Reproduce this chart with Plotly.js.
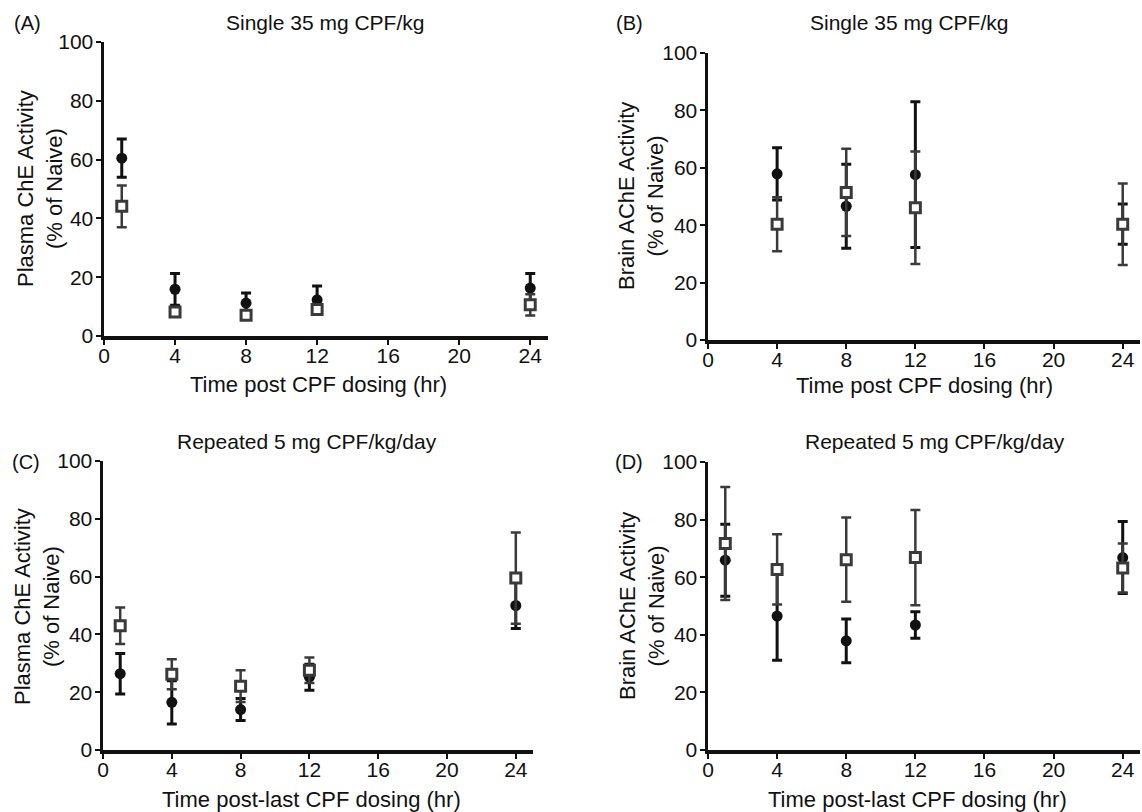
<!DOCTYPE html>
<html>
<head>
<meta charset="utf-8">
<script src="https://cdn.plot.ly/plotly-3.0.1.min.js"></script>
<style>html,body{margin:0;padding:0;background:#fff;}#chart{width:1142px;height:812px;}</style>
</head>
<body>
<div id="chart"></div>
<script>
// ---- Data ----
const hoursA = [1, 4, 8, 12, 24];
const plasmaSingleCircle = [60.5, 15.9, 11.2, 12.3, 16.3];
const plasmaSingleCircleErr = [6.5, 5.4, 3.4, 4.7, 5.0];
const plasmaSingleSquare = [44.1, 8.2, 7.1, 9.0, 10.6];
const plasmaSingleSquareErr = [7.1, 1.0, 1.0, 1.5, 3.6];

const hoursB = [4, 8, 12, 24];
const brainSingleCircle = [57.9, 46.6, 57.6, 40.4];
const brainSingleCircleErr = [9.1, 14.6, 25.4, 7.0];
const brainSingleSquare = [40.3, 51.4, 46.1, 40.3];
const brainSingleSquareErr = [9.4, 15.2, 19.6, 14.2];

const hoursC = [1, 4, 8, 12, 24];
const plasmaRepCircle = [26.4, 16.5, 14.0, 25.2, 50.0];
const plasmaRepCircleErr = [7.0, 7.5, 3.8, 4.5, 8.0];
const plasmaRepSquare = [43.0, 26.2, 22.1, 27.6, 59.5];
const plasmaRepSquareErr = [6.3, 5.2, 5.5, 4.4, 15.8];

const hoursD = [1, 4, 8, 12, 24];
const brainRepCircle = [65.9, 46.5, 37.9, 43.4, 66.8];
const brainRepCircleErr = [12.5, 15.3, 7.6, 4.6, 12.5];
const brainRepSquare = [71.7, 62.7, 66.1, 66.8, 63.2];
const brainRepSquareErr = [19.6, 12.2, 14.6, 16.5, 8.5];

const xTicks = [0, 4, 8, 12, 16, 20, 24];
const yTicks = [0, 20, 40, 60, 80, 100];

const panelLetters = ['(A)', '(B)', '(C)', '(D)'];
const panelTitles = ['Single 35 mg CPF/kg', 'Single 35 mg CPF/kg', 'Repeated 5 mg CPF/kg/day', 'Repeated 5 mg CPF/kg/day'];
const xTitles = ['Time post CPF dosing (hr)', 'Time post CPF dosing (hr)', 'Time post-last CPF dosing (hr)', 'Time post-last CPF dosing (hr)'];
const yTitles = ['Plasma ChE Activity<br>(% of Naive)', 'Brain AChE Activity<br>(% of Naive)', 'Plasma ChE Activity<br>(% of Naive)', 'Brain AChE Activity<br>(% of Naive)'];

// ---- Build ----
const W = 1142, H = 812;
const FONT = 'Liberation Sans, Arial, sans-serif';
const NARROW = 'Liberation Sans Narrow, Arial Narrow, Liberation Sans, sans-serif';
const px = v => v / W;
const py = v => 1 - v / H;

function circleTrace(x, y, e, ax) {
  return {x: x, y: y, type: 'scatter', mode: 'markers', xaxis: 'x' + ax, yaxis: 'y' + ax,
    marker: {symbol: 'circle', size: 11, color: '#111'},
    error_y: {type: 'data', array: e, visible: true, color: '#111', thickness: 3, width: 5},
    cliponaxis: false, hoverinfo: 'x+y'};
}
function squareTrace(x, y, e, ax) {
  return {x: x, y: y, type: 'scatter', mode: 'markers', xaxis: 'x' + ax, yaxis: 'y' + ax,
    marker: {symbol: 'square', size: 10, color: '#fff', line: {color: '#3a3a3a', width: 3}},
    error_y: {type: 'data', array: e, visible: true, color: '#3a3a3a', thickness: 2.5, width: 5},
    cliponaxis: false, hoverinfo: 'x+y'};
}

const data = [
  circleTrace(hoursA, plasmaSingleCircle, plasmaSingleCircleErr, ''),
  squareTrace(hoursA, plasmaSingleSquare, plasmaSingleSquareErr, ''),
  circleTrace(hoursB, brainSingleCircle, brainSingleCircleErr, '2'),
  squareTrace(hoursB, brainSingleSquare, brainSingleSquareErr, '2'),
  circleTrace(hoursC, plasmaRepCircle, plasmaRepCircleErr, '3'),
  squareTrace(hoursC, plasmaRepSquare, plasmaRepSquareErr, '3'),
  circleTrace(hoursD, brainRepCircle, brainRepCircleErr, '4'),
  squareTrace(hoursD, brainRepSquare, brainRepSquareErr, '4')
];

function xAxis(d0, d1, anchor) {
  return {domain: [px(d0), px(d1)], range: [0, 25], anchor: anchor,
    tickvals: xTicks, ticktext: xTicks.map(String),
    showline: true, linecolor: '#111', linewidth: 3.5, mirror: false,
    ticks: 'outside', ticklen: 5, tickwidth: 2, tickcolor: '#111',
    ticklabelstandoff: -7,
    showgrid: false, zeroline: false, fixedrange: true,
    tickfont: {family: NARROW, size: 21, color: '#111'}};
}
function yAxis(top, bottom, anchor) {
  return {domain: [py(bottom), py(top)], range: [0, 100], anchor: anchor,
    tickvals: yTicks, ticktext: yTicks.map(String),
    showline: true, linecolor: '#111', linewidth: 3.5, mirror: false,
    ticks: 'outside', ticklen: 5, tickwidth: 2, tickcolor: '#111',
    ticklabelstandoff: -2,
    showgrid: false, zeroline: false, fixedrange: true,
    tickfont: {family: NARROW, size: 21, color: '#111'}};
}

const ann = [];
function txt(text, x, y, size, angle) {
  ann.push({text: text, x: px(x), y: py(y), xref: 'paper', yref: 'paper',
    showarrow: false, xanchor: 'center', yanchor: 'middle',
    textangle: angle || 0, font: {family: FONT, size: size, color: '#111'}});
}
// Panel letters
txt(panelLetters[0], 27, 23, 20);
txt(panelLetters[1], 629, 23, 20);
txt(panelLetters[2], 26, 462, 20);
txt(panelLetters[3], 629, 462, 20);
// Panel titles
txt(panelTitles[0], 325, 22, 21);
txt(panelTitles[1], 909, 22, 21);
txt(panelTitles[2], 307, 441, 21);
txt(panelTitles[3], 935, 441, 21);
// x titles
txt(xTitles[0], 318, 384, 22);
txt(xTitles[1], 924, 386, 22);
txt(xTitles[2], 312, 799, 22);
txt(xTitles[3], 917, 799, 22);
// y titles
txt(yTitles[0], 40, 189, 22, -90);
txt(yTitles[1], 641, 196, 22, -90);
txt(yTitles[2], 37, 606, 22, -90);
txt(yTitles[3], 642, 606, 22, -90);

const layout = {
  width: W, height: H, margin: {l: 0, r: 0, t: 0, b: 0},
  paper_bgcolor: '#fff', plot_bgcolor: '#fff', showlegend: false,
  font: {family: FONT, color: '#111'},
  xaxis: xAxis(104, 548, 'y'),
  yaxis: yAxis(42, 336, 'x'),
  xaxis2: xAxis(708, 1140, 'y2'),
  yaxis2: yAxis(53, 340, 'x2'),
  xaxis3: xAxis(103, 533, 'y3'),
  yaxis3: yAxis(461, 750, 'x3'),
  xaxis4: xAxis(708, 1140, 'y4'),
  yaxis4: yAxis(462, 750, 'x4'),
  annotations: ann
};

Plotly.newPlot('chart', data, layout, {staticPlot: true, displayModeBar: false});
</script>
</body>
</html>
